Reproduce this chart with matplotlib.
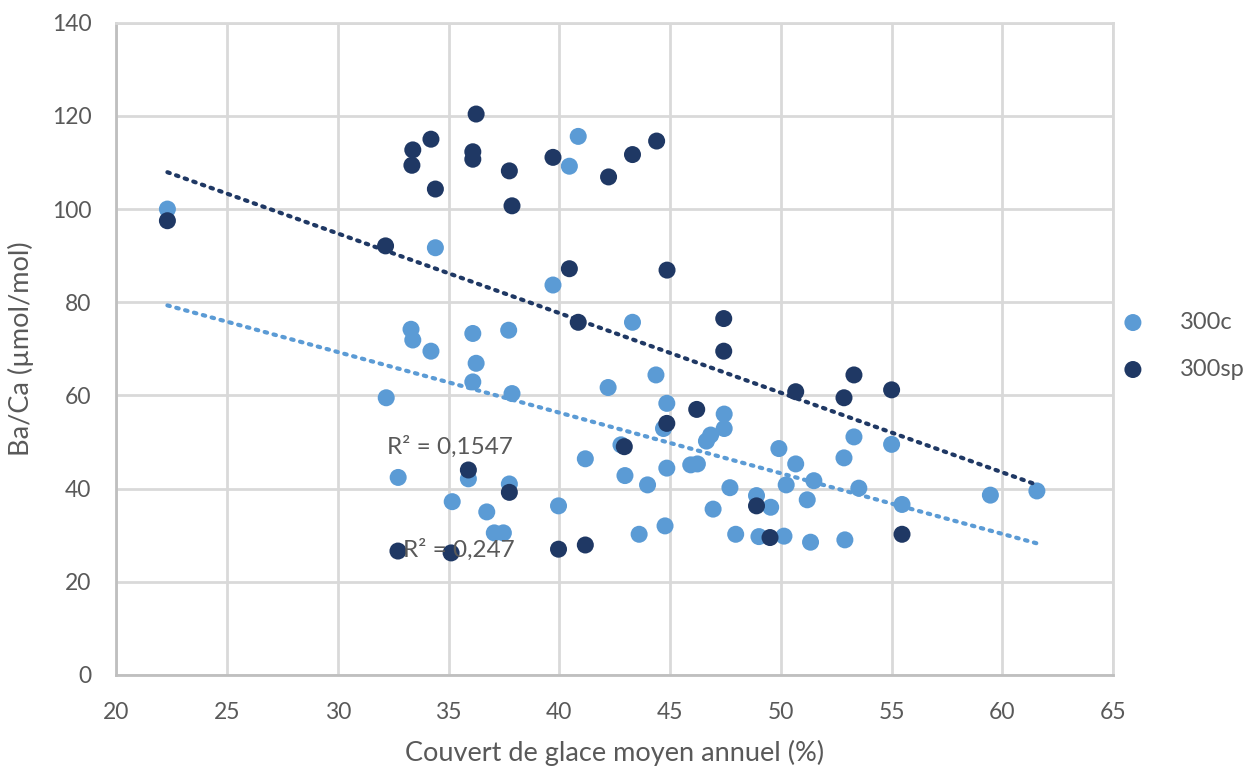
import numpy as np
import matplotlib.pyplot as plt

# 300c (light blue) points
x_300c = [22.3, 40.85, 40.45, 34.4, 39.71, 43.30, 33.3, 33.38, 34.2, 36.09,
          36.24, 36.09, 37.71, 37.86, 32.18, 42.2, 44.36, 44.85, 44.7, 47.44,
          47.44, 46.83, 46.64, 42.78, 41.17, 44.85, 45.93, 46.23, 42.96, 43.98,
          47.7, 46.94, 44.77, 43.6, 47.96, 32.72, 35.89, 37.74, 35.16, 36.72,
          37.06, 37.47, 39.96, 49.91, 50.67, 53.3, 52.85, 55.0, 50.24, 51.49,
          53.52, 48.9, 49.54, 51.19, 55.47, 59.46, 61.56, 49.01, 50.14, 51.34,
          52.89]
y_300c = [100.0, 115.6, 109.2, 91.7, 83.7, 75.7, 74.2, 71.9, 69.5, 73.3,
          66.9, 62.9, 74.0, 60.4, 59.5, 61.7, 64.4, 58.3, 52.9, 56.0,
          52.9, 51.5, 50.2, 49.4, 46.4, 44.4, 45.1, 45.3, 42.8, 40.8,
          40.2, 35.6, 32.0, 30.2, 30.2, 42.4, 42.1, 41.0, 37.2, 35.0,
          30.5, 30.5, 36.3, 48.6, 45.3, 51.1, 46.6, 49.5, 40.8, 41.7,
          40.1, 38.5, 36.0, 37.6, 36.6, 38.6, 39.5, 29.7, 29.8, 28.5,
          29.0]

# 300sp (dark blue) points
x_300sp = [22.3, 36.24, 34.2, 33.38, 33.34, 36.09, 36.09, 37.74, 34.4, 37.86,
           39.71, 42.22, 43.30, 44.39, 32.15, 40.45, 44.86, 40.85, 47.42, 47.42,
           50.67, 53.3, 52.85, 55.0, 46.2, 44.85, 42.93, 35.89, 37.74, 48.9,
           49.51, 55.47, 32.71, 35.11, 39.96, 41.17]
y_300sp = [97.5, 120.4, 115.0, 112.7, 109.4, 112.3, 110.7, 108.2, 104.3, 100.7,
           111.1, 106.9, 111.7, 114.6, 92.1, 87.2, 86.9, 75.7, 76.5, 69.5,
           60.8, 64.4, 59.5, 61.2, 57.0, 54.0, 49.0, 44.0, 39.2, 36.3,
           29.5, 30.2, 26.6, 26.2, 27.0, 27.9]

r2_labels = ["R\u00b2 = 0,1547", "R\u00b2 = 0,247"]

c_light = "#5B9BD5"
c_dark = "#1F3864"
grey = "#595959"

plt.rcParams["font.family"] = ["Lato", "DejaVu Sans"]

fig = plt.figure(figsize=(12.47, 7.7), dpi=100)
ax = fig.add_axes([0.0934, 0.1234, 0.7992, 0.8471])

ax.scatter(x_300c, y_300c, s=150, color=c_light, label="300c", zorder=3,
           edgecolors="none")
ax.scatter(x_300sp, y_300sp, s=150, color=c_dark, label="300sp", zorder=4,
           edgecolors="none")

# linear trendlines (Excel style, dotted) over the shared x range
x_all = np.array(x_300c + x_300sp)
xs = np.array([x_all.min(), x_all.max()])
for xv, yv, col in [(x_300c, y_300c, c_light), (x_300sp, y_300sp, c_dark)]:
    k, b = np.polyfit(xv, yv, 1)
    ax.plot(xs, k * xs + b, linestyle=(0, (0.6, 1.6)), dash_capstyle="round",
            color=col, linewidth=3, zorder=5)

ax.text(32.21, 48.9, r2_labels[0], fontsize=17.5, color=grey, va="center", zorder=6)
ax.text(32.93, 26.8, r2_labels[1], fontsize=17.5, color=grey, va="center", zorder=6)

ax.set_xlim(20, 65)
ax.set_ylim(0, 140)
ax.set_xticks(range(20, 66, 5))
ax.set_yticks(range(0, 141, 20))
ax.grid(True, color="#d9d9d9", linewidth=2)
ax.set_axisbelow(True)
for side in ["top", "right"]:
    ax.spines[side].set_color("#d9d9d9")
    ax.spines[side].set_linewidth(2)
for side in ["left", "bottom"]:
    ax.spines[side].set_color("#bfbfbf")
    ax.spines[side].set_linewidth(2)
ax.tick_params(length=0, labelsize=16.5, labelcolor=grey)
ax.tick_params(axis="y", pad=18)
ax.tick_params(axis="x", pad=19.5)

ax.set_xlabel("Couvert de glace moyen annuel (%)", fontsize=19.5, color=grey,
              labelpad=12)
ax.set_ylabel("Ba/Ca (\u00b5mol/mol)", fontsize=19.5, color=grey, labelpad=13)

fig.legend(loc="center left", bbox_to_anchor=(0.882, 0.551), frameon=False,
           fontsize=17, labelcolor=grey, handlelength=1, handletextpad=1.5,
           labelspacing=1.1, markerscale=1.0)

fig.savefig("out.png", dpi=100)
